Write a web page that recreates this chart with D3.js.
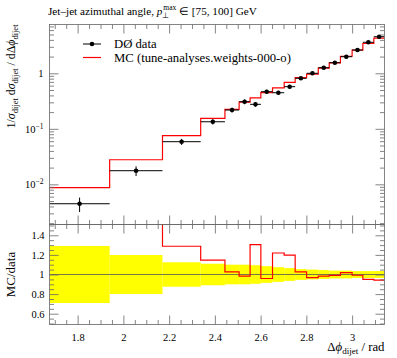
<!DOCTYPE html>
<html><head><meta charset="utf-8">
<script src="https://cdn.jsdelivr.net/npm/d3@7"></script>
<style>
body{margin:0;background:#fff;}
svg text{font-family:"Liberation Serif",serif !important;fill:#000;}
</style></head>
<body>
<svg id="c" width="397" height="358" font-family="Liberation Serif"></svg>
<script>
// ---------- data ----------
const binEdges = [1.677, 1.940, 2.171, 2.338, 2.444, 2.506, 2.554, 2.601, 2.652, 2.703,
                  2.751, 2.801, 2.852, 2.900, 2.949, 3.000, 3.047, 3.095, 3.1416];
const dataValues = [0.00447, 0.0176, 0.0586, 0.134, 0.218, 0.308, 0.276, 0.466, 0.447,
                    0.574, 0.813, 1.00, 1.262, 1.553, 1.99, 2.63, 3.62, 4.56];
const dataErrors = [0.0013, 0.0035, 0.0073, 0.0147, 0.0218, 0.0308, 0.0262, 0.0396, 0.0335,
                    0.0373, 0.0447, 0.050, 0.0568, 0.0621, 0.0796, 0.092, 0.127, 0.160];
const mcValues = [0.00869, 0.0277, 0.0755, 0.1536, 0.224, 0.303, 0.360, 0.447, 0.545,
                  0.687, 0.835, 0.969, 1.24, 1.54, 2.03, 2.61, 3.44, 4.30];
const xTickLabels = ["1.8", "2", "2.2", "2.4", "2.6", "2.8", "3"];
const yMainMajor = [0.01, 0.1, 1];
const yRatioMajor = [0.6, 0.8, 1, 1.2, 1.4];
const legendLabels = ["DØ data", "MC (tune-analyses.weights-000-o)"];

// ---------- layout ----------
const L = 49.5, R = 384.5, T = 24.5, MB = 224.5, RB = 324.5;
const svg = d3.select("#c");
const x = d3.scaleLinear().domain([1.677, 3.1416]).range([L, R]);
const y = d3.scaleLog().domain([0.00189, 7.57]).range([MB, T]);
const yr = d3.scaleLinear().domain([0.49, 1.51]).range([RB, MB]);
const frameCol = "#666";

const bins = dataValues.map((v, i) => ({
  x0: binEdges[i], x1: binEdges[i + 1], xc: (binEdges[i] + binEdges[i + 1]) / 2,
  v, e: dataErrors[i], mc: mcValues[i], r: mcValues[i] / v, rel: dataErrors[i] / v
}));

const defs = svg.append("defs");
defs.append("clipPath").attr("id", "clipMain").append("rect")
  .attr("x", L).attr("y", T).attr("width", R - L).attr("height", MB - T);
defs.append("clipPath").attr("id", "clipRatio").append("rect")
  .attr("x", L).attr("y", MB).attr("width", R - L).attr("height", RB - MB);

// ---------- ratio panel ----------
const gR = svg.append("g").attr("clip-path", "url(#clipRatio)");
gR.selectAll("rect.band").data(bins).join("rect")
  .attr("x", d => x(d.x0)).attr("width", d => x(d.x1) - x(d.x0))
  .attr("y", d => yr(1 + d.rel)).attr("height", d => yr(1 - d.rel) - yr(1 + d.rel))
  .attr("fill", "#ffff00");
gR.append("line").attr("x1", L).attr("x2", R).attr("y1", yr(1)).attr("y2", yr(1))
  .attr("stroke", "#555").attr("stroke-width", 0.8);
const stepPts = (acc) => bins.map(d => [x(d.x0), acc(d)]).concat([[x(bins[bins.length - 1].x1), acc(bins[bins.length - 1])]]);
gR.append("path").attr("d", d3.line().curve(d3.curveStepAfter)(stepPts(d => yr(d.r))))
  .attr("fill", "none").attr("stroke", "#ff0000").attr("stroke-width", 1.2);

// ---------- main panel ----------
const gM = svg.append("g").attr("clip-path", "url(#clipMain)");
gM.append("path").attr("d", d3.line().curve(d3.curveStepAfter)(stepPts(d => y(d.mc))))
  .attr("fill", "none").attr("stroke", "#ff0000").attr("stroke-width", 1.2);
const pts = gM.selectAll("g.pt").data(bins).join("g");
pts.append("line").attr("x1", d => x(d.x0)).attr("x2", d => x(d.x1))
  .attr("y1", d => y(d.v)).attr("y2", d => y(d.v)).attr("stroke", "#000").attr("stroke-width", 1);
pts.append("line").attr("x1", d => x(d.xc)).attr("x2", d => x(d.xc))
  .attr("y1", d => y(d.v - d.e)).attr("y2", d => y(d.v + d.e)).attr("stroke", "#000").attr("stroke-width", 1);
pts.append("circle").attr("cx", d => x(d.xc)).attr("cy", d => y(d.v)).attr("r", 2.3).attr("fill", "#000");

// ---------- axes ----------
function styleAxis(g) {
  g.attr("font-family", "Liberation Serif");
  g.select(".domain").remove();
  g.selectAll(".tick line").attr("stroke", frameCol).attr("stroke-width", 0.8);
  g.selectAll("text").attr("font-size", 10.5);
}
const xMajor = xTickLabels.map(Number);
const xMinor = d3.range(1.70, 3.15, 0.05).filter(v => !xMajor.some(m => Math.abs(m - v) < 1e-6));
function xAxes(yPos, dir, labels) {
  const mk = dir === "bottom" ? d3.axisBottom : d3.axisTop;
  svg.append("g").attr("transform", `translate(0,${yPos})`)
    .call(mk(x).tickValues(xMajor).tickSizeInner(-9).tickSizeOuter(0).tickPadding(9)
      .tickFormat((d, i) => labels ? xTickLabels[i] : "")).call(styleAxis);
  svg.append("g").attr("transform", `translate(0,${yPos})`)
    .call(mk(x).tickValues(xMinor).tickSizeInner(-4.5).tickSizeOuter(0).tickFormat("")).call(styleAxis);
}
xAxes(T, "top", false);
xAxes(MB, "bottom", false);
xAxes(MB, "top", false);
xAxes(RB, "bottom", true);

// main y log axis
const yAll = y.ticks(30).filter(v => v >= y.domain()[0] && v <= y.domain()[1]);
const yMinorMain = yAll.filter(v => !yMainMajor.some(m => Math.abs(m - v) / m < 1e-6));
function yAxes(scale, major, minor, fmt, minorLen) {
  const ga = svg.append("g").attr("transform", `translate(${L},0)`)
    .call(d3.axisLeft(scale).tickValues(major).tickSizeInner(-9).tickSizeOuter(0).tickFormat(() => "")).call(styleAxis);
  svg.append("g").attr("transform", `translate(${L},0)`)
    .call(d3.axisLeft(scale).tickValues(minor).tickSizeInner(-minorLen).tickSizeOuter(0).tickFormat("")).call(styleAxis);
  svg.append("g").attr("transform", `translate(${R},0)`)
    .call(d3.axisRight(scale).tickValues(major).tickSizeInner(-9).tickSizeOuter(0).tickFormat("")).call(styleAxis);
  svg.append("g").attr("transform", `translate(${R},0)`)
    .call(d3.axisRight(scale).tickValues(minor).tickSizeInner(-minorLen).tickSizeOuter(0).tickFormat("")).call(styleAxis);
  ga.selectAll(".tick").each(function (d) { fmt(d3.select(this), d); });
}
yAxes(y, yMainMajor, yMinorMain, (t, d) => {
  const tx = t.append("text").attr("x", -6).attr("dy", "0.32em").attr("text-anchor", "end").attr("font-size", 10.5);
  if (d === 1) tx.text("1");
  else {
    tx.append("tspan").text("10");
    tx.append("tspan").attr("dy", -4).attr("font-size", 7.5).text("−" + Math.round(-Math.log10(d)));
  }
}, 4.5);
const yRatioMinor = d3.range(0.5, 1.501, 0.05).filter(v => !yRatioMajor.some(m => Math.abs(m - v) < 1e-6));
yAxes(yr, yRatioMajor, yRatioMinor, (t, d) => {
  t.append("text").attr("x", -5).attr("dy", "0.32em").attr("text-anchor", "end").attr("font-size", 10.5)
    .text(d3.format("~g")(d));
}, 4.5);

// frames
svg.append("rect").attr("x", L).attr("y", T).attr("width", R - L).attr("height", MB - T)
  .attr("fill", "none").attr("stroke", frameCol).attr("stroke-width", 0.8);
svg.append("rect").attr("x", L).attr("y", MB).attr("width", R - L).attr("height", RB - MB)
  .attr("fill", "none").attr("stroke", frameCol).attr("stroke-width", 0.8);

// ---------- legend ----------
const lg = svg.append("g");
lg.append("line").attr("x1", 83).attr("x2", 101).attr("y1", 44).attr("y2", 44).attr("stroke", "#000").attr("stroke-width", 1);
lg.append("circle").attr("cx", 92).attr("cy", 44).attr("r", 2.3).attr("fill", "#000");
lg.append("text").attr("x", 114).attr("y", 48).attr("font-size", 12.7).text(legendLabels[0]);
lg.append("line").attr("x1", 83).attr("x2", 101).attr("y1", 57.5).attr("y2", 57.5).attr("stroke", "#ff0000").attr("stroke-width", 1.2);
lg.append("text").attr("x", 114).attr("y", 61.5).attr("font-size", 12.7).text(legendLabels[1]);

// ---------- title ----------
const title = svg.append("text").attr("x", 48).attr("y", 15).attr("font-size", 11.2);
title.append("tspan").text("Jet–jet azimuthal angle, ");
title.append("tspan").attr("font-style", "italic").text("p");
title.append("tspan").attr("font-size", 7.5).attr("dy", 2.5).text("⊥");
title.append("tspan").attr("font-size", 7.5).attr("dx", -6).attr("dy", -7.5).text("max");
title.append("tspan").attr("dy", 5).text(" ∈ [75, 100] GeV");

// ---------- axis labels ----------
const yl = svg.append("text").attr("transform", `translate(15,${T}) rotate(-90)`)
  .attr("text-anchor", "end").attr("font-size", 11.8);
yl.append("tspan").text("1/");
yl.append("tspan").attr("font-style", "italic").text("σ");
yl.append("tspan").attr("font-size", 8.5).attr("dy", 2.5).text("dijet");
yl.append("tspan").attr("dy", -2.5).text(" d");
yl.append("tspan").attr("font-style", "italic").text("σ");
yl.append("tspan").attr("font-size", 8.5).attr("dy", 2.5).text("dijet");
yl.append("tspan").attr("dy", -2.5).text(" / dΔ");
yl.append("tspan").attr("font-style", "italic").text("ϕ");
yl.append("tspan").attr("font-size", 8.5).attr("dy", 2.5).text("dijet");

svg.append("text").attr("transform", `translate(15,${yr(1)}) rotate(-90)`)
  .attr("text-anchor", "middle").attr("font-size", 13).text("MC/data");

const xl = svg.append("text").attr("x", R).attr("y", 351).attr("text-anchor", "end").attr("font-size", 12.8);
xl.append("tspan").text("Δ");
xl.append("tspan").attr("font-style", "italic").text("ϕ");
xl.append("tspan").attr("font-size", 9).attr("dy", 2.5).text("dijet");
xl.append("tspan").attr("dy", -2.5).text(" / rad");
</script>
</body></html>
